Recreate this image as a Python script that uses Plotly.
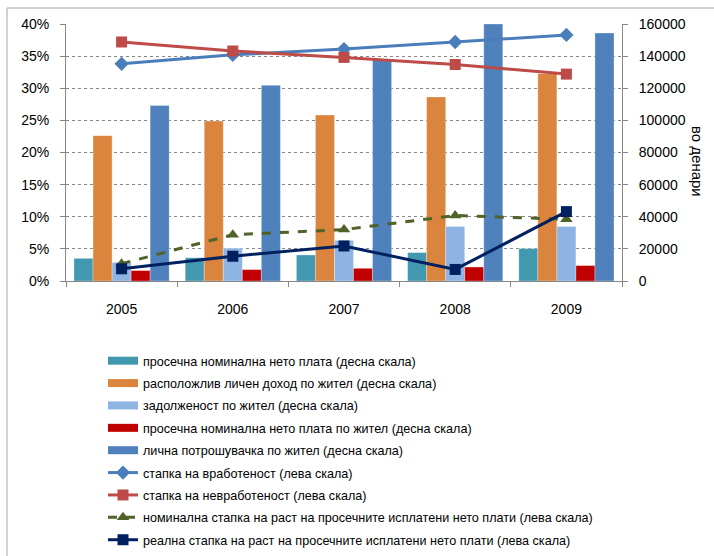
import plotly.graph_objects as go

years = ["2005", "2006", "2007", "2008", "2009"]

# bars (right scale, denars)
avg_net_wage = [14100, 14500, 16200, 17700, 20200]
disposable_income = [90500, 99600, 103300, 114600, 129100]
debt_per_resident = [11600, 20400, 25300, 34000, 34000]
wage_per_resident = [6500, 7100, 7900, 8700, 9600]
consumption_per_resident = [109200, 121800, 137400, 160000, 154400]

# lines (left scale, share)
employment_rate = [0.338, 0.352, 0.361, 0.372, 0.383]
unemployment_rate = [0.372, 0.358, 0.348, 0.337, 0.322]
nominal_growth = [0.027, 0.072, 0.080, 0.102, 0.096]
real_growth = [0.019, 0.0385, 0.0545, 0.018, 0.108]

bar_names = [
    "просечна номинална нето плата (десна скала)",
    "расположлив личен доход по жител (десна скала)",
    "задолженост по жител (десна скала)",
    "просечна номинална нето плата по жител (десна скала)",
    "лична потрошувачка по жител (десна скала)",
]
bar_values = [avg_net_wage, disposable_income, debt_per_resident,
              wage_per_resident, consumption_per_resident]
bar_colors = ["#4198AF", "#DB843D", "#8EB4E3", "#C00000", "#4F81BD"]

FONT = "Liberation Sans, Arial, sans-serif"
GRAY = "#868686"

fig = go.Figure()

for i, (name, vals, col) in enumerate(zip(bar_names, bar_values, bar_colors)):
    fig.add_trace(go.Bar(
        x=years, y=vals, name=name, marker_color=col,
        marker_line=dict(width=0.6, color="rgba(255,255,255,0.5)"),
        yaxis="y", showlegend=False,
    ))
    # legend entry as a wide rectangle
    fig.add_trace(go.Scatter(
        x=[None], y=[None], mode="lines", name=name,
        line=dict(color=col, width=8), legendgroup=f"g{i}",
        yaxis="y", hoverinfo="skip",
    ))

line_specs = [
    ("стапка на вработеност (лева скала)", employment_rate, "#4A7EBB", "diamond", "solid", 11),
    ("стапка на невработеност (лева скала)", unemployment_rate, "#BE4B48", "square", "solid", 11),
    ("номинална стапка на раст на просечните исплатени нето плати (лева скала)", nominal_growth, "#4F6228", "triangle-up", "dash", 11),
    ("реална стапка на раст на просечните исплатени нето плати (лева скала)", real_growth, "#002060", "square", "solid", 11),
]
for j, (name, vals, col, sym, dash, ms) in enumerate(line_specs):
    fig.add_trace(go.Scatter(
        x=years, y=vals, name=name, mode="lines+markers",
        line=dict(color=col, width=3, dash=dash),
        marker=dict(symbol=sym, size=ms, color=col),
        yaxis="y2", legendgroup=f"l{j}",
    ))

L, R, T, B = 66, 92, 24, 275
W, H = 714, 556
pw, ph = W - L - R, H - T - B

def px(x):
    return (x - L) / pw

def py(y):
    return (H - B - y) / ph

fig.update_layout(
    width=W, height=H,
    margin=dict(l=L, r=R, t=T, b=B, autoexpand=False),
    paper_bgcolor="white", plot_bgcolor="white",
    font=dict(family=FONT, size=14, color="#000000"),
    barmode="group", bargap=0.144, bargroupgap=0,
    xaxis=dict(
        type="category", categoryorder="array", categoryarray=years,
        range=[-0.5, 4.5], tickson="boundaries", ticks="outside", ticklen=5,
        tickcolor=GRAY, showline=True, linecolor=GRAY, linewidth=1,
        showgrid=False, ticklabelstandoff=15, tickfont=dict(size=14),
    ),
    yaxis=dict(
        side="right", range=[0, 160000], dtick=20000, tickformat="d",
        ticks="outside", ticklen=5, tickcolor=GRAY, showline=True,
        linecolor=GRAY, showgrid=True, gridcolor=GRAY, griddash="dot",
        gridwidth=1, zeroline=False, ticklabelstandoff=8,
        tickfont=dict(size=14),
    ),
    yaxis2=dict(
        overlaying="y", side="left", range=[0, 0.40], dtick=0.05,
        tickformat=".0%", ticks="outside", ticklen=5, tickcolor=GRAY,
        showline=True, linecolor=GRAY, showgrid=False, zeroline=False,
        ticklabelstandoff=8, tickfont=dict(size=14),
    ),
    legend=dict(
        x=px(103), y=py(346), xanchor="left", yanchor="top",
        font=dict(family=FONT, size=12.6), traceorder="grouped",
        tracegroupgap=3, itemwidth=30, bgcolor="rgba(0,0,0,0)",
    ),
    showlegend=True,
    annotations=[dict(
        text="во денари", textangle=90, x=px(698), y=py(161),
        xanchor="center", yanchor="middle",
        xref="paper", yref="paper", showarrow=False,
        font=dict(family=FONT, size=15),
    )],
    shapes=[dict(
        type="rect", xref="paper", yref="paper",
        x0=px(7), y0=py(8), x1=px(730), y1=py(580),
        line=dict(color="#A6A6A6", width=1), fillcolor="rgba(0,0,0,0)",
        layer="below",
    )],
)

fig.write_html("out.html")
